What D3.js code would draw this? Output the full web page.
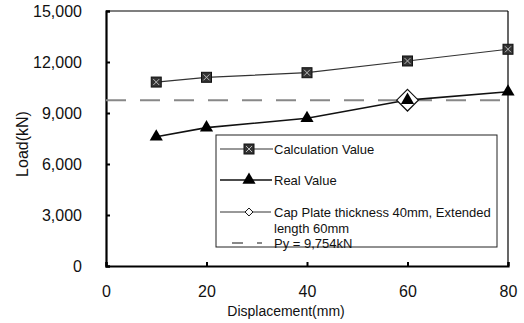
<!DOCTYPE html>
<html>
<head>
<meta charset="utf-8">
<script src="https://cdn.jsdelivr.net/npm/d3@7"></script>
<style>
  body { margin: 0; background: #fff; }
  text { font-family: "Liberation Sans", Arial, sans-serif; fill: #111; }
</style>
</head>
<body>
<div id="chart"></div>
<script>
const displacement = [10, 20, 40, 60, 80];
const calcValue = [10820, 11100, 11370, 12060, 12750];
const realValue = [7600, 8140, 8690, 9760, 10250];
const capPlate = [[60, 9754]];
const pyValue = 9754;
const xTicks = [0, 20, 40, 60, 80];
const yTicks = [0, 3000, 6000, 9000, 12000, 15000];
const legendLabels = ['Calculation Value', 'Real Value', 'Cap Plate thickness 40mm, Extended', 'length 60mm', 'Py = 9,754kN'];

const width = 524, height = 323;
const svg = d3.select('#chart').append('svg')
    .attr('width', width)
    .attr('height', height);

const x = d3.scaleLinear().domain([0, 80]).range([106, 508]);
const y = d3.scaleLinear().domain([0, 15000]).range([266, 11]);

// frame: thin top/right, heavy left/bottom
svg.append('line').attr('x1', 106).attr('x2', 508).attr('y1', 11).attr('y2', 11).attr('stroke', '#000').attr('stroke-width', 1.2);
svg.append('line').attr('x1', 508).attr('x2', 508).attr('y1', 11).attr('y2', 266).attr('stroke', '#000').attr('stroke-width', 1.2);

const yAxis = svg.append('g')
    .attr('transform', 'translate(106,0)')
    .call(d3.axisLeft(y).tickValues(yTicks).tickSize(-4).tickPadding(24).tickFormat(d3.format(',')));
const xAxis = svg.append('g')
    .attr('transform', 'translate(0,266)')
    .call(d3.axisBottom(x).tickValues(xTicks).tickSize(-4).tickPadding(20));
[yAxis, xAxis].forEach(g => {
    g.select('.domain').attr('stroke-width', 2.2).attr('stroke', '#000');
    g.selectAll('.tick line').attr('stroke-width', 2).attr('stroke', '#000');
    g.selectAll('.tick text').style('font-size', '16px').attr('fill', '#111');
});

svg.append('text').attr('x', 286).attr('y', 316).attr('text-anchor', 'middle')
    .style('font-size', '14px').text('Displacement(mm)');
svg.append('text').attr('transform', 'translate(28,144) rotate(-90)').attr('text-anchor', 'middle')
    .style('font-size', '16px').text('Load(kN)');

// Py line
svg.append('line').attr('x1', x(0)).attr('x2', x(80)).attr('y1', y(pyValue)).attr('y2', y(pyValue))
    .attr('stroke', '#888').attr('stroke-width', 2).attr('stroke-dasharray', '20,14');

const line = d3.line().x(d => x(d[0])).y(d => y(d[1]));
const calcPts = displacement.map((d, i) => [d, calcValue[i]]);
const realPts = displacement.map((d, i) => [d, realValue[i]]);

svg.append('path').datum(calcPts).attr('d', line).attr('fill', 'none').attr('stroke', '#333').attr('stroke-width', 1.2);
svg.append('path').datum(realPts).attr('d', line).attr('fill', 'none').attr('stroke', '#111').attr('stroke-width', 1.6);

function square(g, cx, cy) {
    g.append('rect').attr('x', cx - 5).attr('y', cy - 5).attr('width', 10).attr('height', 10)
        .attr('fill', '#333').attr('stroke', '#111');
    g.append('path').attr('d', `M${cx - 3},${cy - 3}L${cx + 3},${cy + 3}M${cx + 3},${cy - 3}L${cx - 3},${cy + 3}`)
        .attr('stroke', '#bbb').attr('stroke-width', 1);
}
const tri = d3.symbol().type(d3.symbolTriangle).size(75);
const diamond = d3.symbolDiamond2 || d3.symbolDiamond;

svg.selectAll('.cap').data(capPlate).enter().append('path').attr('class', 'cap')
    .attr('d', d3.symbol().type(diamond).size(300))
    .attr('transform', d => `translate(${x(d[0])},${y(d[1])})`)
    .attr('fill', '#fff').attr('stroke', '#111').attr('stroke-width', 1.2);

calcPts.forEach(d => square(svg, x(d[0]), y(d[1])));
svg.selectAll('.tri').data(realPts).enter().append('path').attr('class', 'tri')
    .attr('d', tri).attr('transform', d => `translate(${x(d[0])},${y(d[1])})`).attr('fill', '#000');

// legend
const lg = svg.append('g');
lg.append('rect').attr('x', 216).attr('y', 135).attr('width', 281).attr('height', 112)
    .attr('fill', '#fff').attr('stroke', '#222').attr('stroke-width', 1);
const rows = [149, 180, 212, 243];
lg.append('line').attr('x1', 220).attr('x2', 273).attr('y1', rows[0]).attr('y2', rows[0]).attr('stroke', '#333').attr('stroke-width', 1.2);
square(lg, 249, rows[0]);
lg.append('line').attr('x1', 220).attr('x2', 272).attr('y1', rows[1]).attr('y2', rows[1]).attr('stroke', '#111').attr('stroke-width', 1.6);
lg.append('path').attr('d', tri).attr('transform', `translate(249,${rows[1]})`).attr('fill', '#000');
lg.append('line').attr('x1', 220).attr('x2', 271).attr('y1', rows[2]).attr('y2', rows[2]).attr('stroke', '#333').attr('stroke-width', 1);
lg.append('path').attr('d', d3.symbol().type(diamond).size(40))
    .attr('transform', `translate(249,${rows[2]})`).attr('fill', '#fff').attr('stroke', '#111');
lg.append('line').attr('x1', 232).attr('x2', 243).attr('y1', rows[3]).attr('y2', rows[3]).attr('stroke', '#888').attr('stroke-width', 2);
lg.append('line').attr('x1', 257).attr('x2', 262).attr('y1', rows[3]).attr('y2', rows[3]).attr('stroke', '#888').attr('stroke-width', 2);

const ty = [rows[0], rows[1], rows[2], rows[2] + 16, rows[3]];
lg.selectAll('.lt').data(legendLabels).enter().append('text').attr('class', 'lt')
    .attr('x', 274)
    .attr('y', (d, i) => ty[i] + 4.5)
    .style('font-size', '13px')
    .text(d => d);
</script>
</body>
</html>
